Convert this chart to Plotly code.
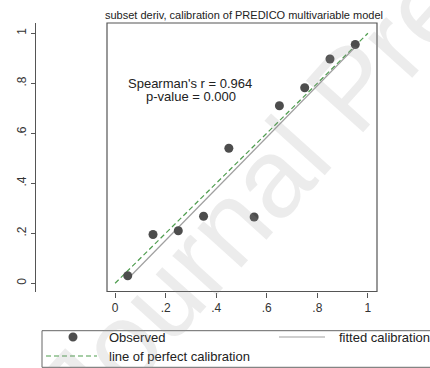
import plotly.graph_objects as go

# ---- data ----
pred_risk = [0.05, 0.15, 0.25, 0.35, 0.45, 0.55, 0.65, 0.75, 0.85, 0.95]
observed = [0.030, 0.195, 0.210, 0.268, 0.540, 0.265, 0.710, 0.782, 0.897, 0.955]
fitted_x = [0.05, 0.95]
fitted_y = [0.017, 0.945]
perfect_x = [0.0, 1.0]
perfect_y = [0.0, 1.0]
tick_vals = [0, 0.2, 0.4, 0.6, 0.8, 1.0]
tick_text = ["0", ".2", ".4", ".6", ".8", "1"]
title_text = "subset deriv, calibration of PREDICO multivariable model"
stat_lines = ["Spearman's r = 0.964", "p-value = 0.000"]
legend_labels = ["Observed", "fitted calibration", "line of perfect calibration"]

W, H = 430, 368
FONT = "Liberation Sans, Arial, sans-serif"

def px(x):
    return x / W

def py(y):
    return 1 - y / H

# plot box in pixels
bx0, bx1, by0, by1 = 107, 377, 23, 291.5

fig = go.Figure()

fig.add_trace(go.Scatter(x=perfect_x, y=perfect_y, mode="lines",
                         line=dict(color="#4f9d4f", width=1.2, dash="5px,3px"),
                         showlegend=False, hoverinfo="skip"))
fig.add_trace(go.Scatter(x=fitted_x, y=fitted_y, mode="lines",
                         line=dict(color="#a0a0a0", width=1.2),
                         showlegend=False, hoverinfo="skip"))
fig.add_trace(go.Scatter(x=pred_risk, y=observed, mode="markers",
                         marker=dict(color="#4d4d4d", size=9),
                         showlegend=False))

fig.update_layout(
    width=W, height=H,
    margin=dict(l=0, r=0, t=0, b=0),
    paper_bgcolor="white", plot_bgcolor="white",
    font=dict(family=FONT, size=12, color="#333333"),
    xaxis=dict(domain=[px(bx0), px(bx1)], range=[-0.032, 1.036],
               tickvals=tick_vals, ticktext=tick_text,
               ticks="outside", ticklen=5, tickcolor="#555555",
               showgrid=False, zeroline=False, showline=False,
               tickfont=dict(size=12, color="#333333")),
    yaxis=dict(domain=[py(by1), py(by0)], range=[-0.033, 1.041],
               anchor="free", position=px(35),
               tickvals=tick_vals, ticktext=tick_text, tickangle=-90,
               ticks="outside", ticklen=4, tickcolor="#555555",
               showline=True, linecolor="#555555", linewidth=1,
               showgrid=False, zeroline=False,
               tickfont=dict(size=12, color="#333333")),
)

shapes = []
# plot region box
shapes.append(dict(type="rect", xref="paper", yref="paper",
                   x0=px(bx0), x1=px(bx1), y0=py(by1), y1=py(by0),
                   line=dict(color="#555555", width=1.2), layer="above"))
# legend box
shapes.append(dict(type="rect", xref="paper", yref="paper",
                   x0=px(42), x1=px(440), y0=py(367.3), y1=py(330.7),
                   line=dict(color="#666666", width=1)))
# legend symbols
shapes.append(dict(type="circle", xref="paper", yref="paper",
                   x0=px(68.5), x1=px(77.5), y0=py(341.5), y1=py(332.5),
                   fillcolor="#4d4d4d", line=dict(width=0)))
shapes.append(dict(type="line", xref="paper", yref="paper",
                   x0=px(279), x1=px(325), y0=py(337), y1=py(337),
                   line=dict(color="#a0a0a0", width=1.2)))
shapes.append(dict(type="line", xref="paper", yref="paper",
                   x0=px(46), x1=px(97), y0=py(356), y1=py(356),
                   line=dict(color="#4f9d4f", width=1.2, dash="5px,3px")))
fig.update_layout(shapes=shapes)

ann = []
ann.append(dict(text=title_text, xref="paper", yref="paper", x=px(244), y=py(15),
                xanchor="center", yanchor="middle", showarrow=False,
                font=dict(size=11, color="#222222")))
ann.append(dict(text=stat_lines[0], xref="paper", yref="paper", x=px(190), y=py(83),
                xanchor="center", yanchor="middle", showarrow=False,
                font=dict(size=13, color="#222222")))
ann.append(dict(text=stat_lines[1], xref="paper", yref="paper", x=px(191), y=py(96),
                xanchor="center", yanchor="middle", showarrow=False,
                font=dict(size=13, color="#222222")))
ann.append(dict(text=legend_labels[0], xref="paper", yref="paper", x=px(107), y=py(337),
                xanchor="left", yanchor="middle", showarrow=False,
                font=dict(size=13, color="#222222")))
ann.append(dict(text=legend_labels[1], xref="paper", yref="paper", x=px(337), y=py(337),
                xanchor="left", yanchor="middle", showarrow=False,
                font=dict(size=13, color="#222222")))
ann.append(dict(text=legend_labels[2], xref="paper", yref="paper", x=px(107), y=py(356),
                xanchor="left", yanchor="middle", showarrow=False,
                font=dict(size=13, color="#222222")))
# watermark
ann.append(dict(text="Journal Pre-proof", xref="paper", yref="paper", x=px(352), y=py(88),
                xanchor="center", yanchor="middle", showarrow=False, textangle=-48,
                font=dict(size=112, color="rgba(150,150,150,0.18)")))
fig.update_layout(annotations=ann)

fig.write_html("out.html")
